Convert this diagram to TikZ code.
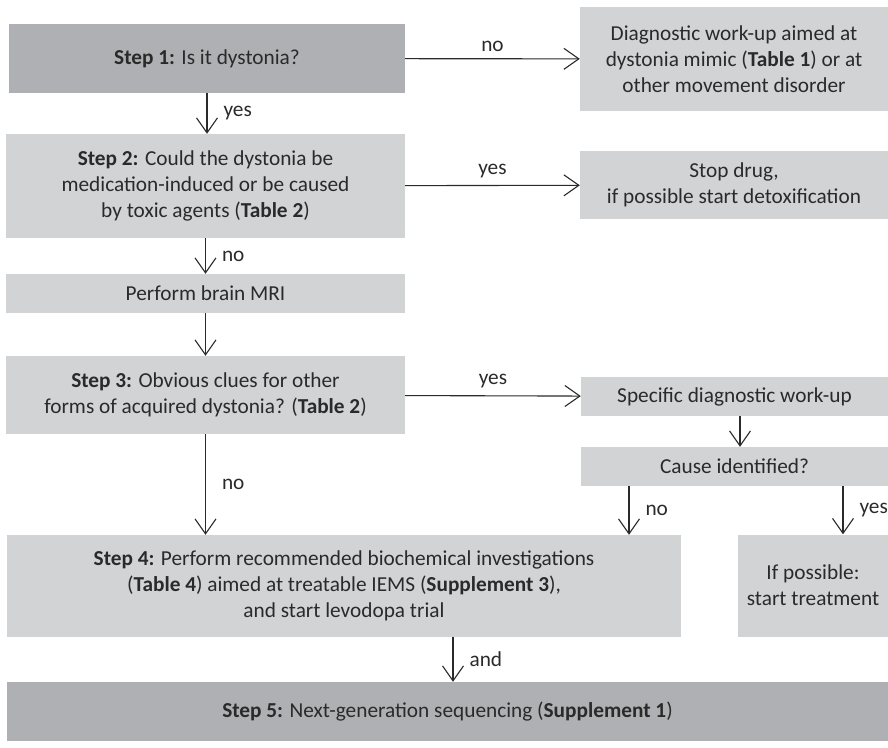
\documentclass[tikz,border=0pt]{standalone}
\usepackage{fontspec}
\setmainfont{Carlito}
\usepackage{tikz}
\usetikzlibrary{positioning}
\usetikzlibrary{arrows.meta}

\definecolor{darkbox}{HTML}{AFB0B3}
\definecolor{lightbox}{HTML}{D2D3D5}
\definecolor{ink}{HTML}{2A2A2A}

\begin{document}
\begin{tikzpicture}[x=1pt, y=-1pt,
  box/.style = {fill=lightbox, text=ink, inner sep=0pt, align=center,
    font=\fontsize{21.3}{26}\selectfont},
  darkstep/.style = {box, fill=darkbox},
  arr/.style = {draw=ink, line width=1.1pt,
    -{Straight Barb[length=15pt, width=21pt, line width=1.1pt]}},
  lbl/.style = {text=ink, inner sep=0pt, font=\fontsize{21.3}{26}\selectfont}]
          \useasboundingbox (0,0) rectangle (888,747);
          \node[darkstep, minimum width=396, minimum height=69](step1) at (207,58.5)
            {\textbf{Step 1:} Is it dystonia?};
          \node[box, minimum width=308, minimum height=104](mimic) at (734,59)
            {Diagnostic work-up aimed at\\dystonia mimic (\textbf{Table 1}) or at\\other movement disorder};
          \node[box, minimum width=399, minimum height=104](step2) at (205.5,186)
            {\textbf{Step 2:} Could the dystonia be\\medication-induced or be caused\\by toxic agents (\textbf{Table 2})};
          \node[box, minimum width=308, minimum height=68](stop) at (734,185)
            {Stop drug,\\if possible start detoxification};
          \node[box, minimum width=399, minimum height=39](mri) at (205.5,293.5)
            {Perform brain MRI};
          \node[box, minimum width=399, minimum height=78](step3) at (205.5,395)
            {\textbf{Step 3:} Obvious clues for other\\forms of acquired dystonia? (\textbf{Table 2})};
          \node[box, minimum width=307, minimum height=39](spec) at (734.5,396.5)
            {Specific diagnostic work-up};
          \node[box, minimum width=307, minimum height=39](cause) at (734.5,466.5)
            {Cause identified?};
          \node[box, minimum width=674, minimum height=102](step4) at (344,586)
            {\textbf{Step 4:} Perform recommended biochemical investigations\\(\textbf{Table 4}) aimed at treatable IEMS (\textbf{Supplement 3}),\\and start levodopa trial};
          \node[box, minimum width=150, minimum height=102](treat) at (813,585.5)
            {If possible:\\start treatment};
          \node[darkstep, minimum width=881, minimum height=59](step5) at (447.5,711.5)
            {\textbf{Step 5:} Next-generation sequencing (\textbf{Supplement 1})};
          \draw[arr] (step1) -- node[lbl, above=7pt]{no} (mimic);
          \draw[arr] (step1.south) -- node[lbl, right=16pt]{yes} (step1.south |- step2.north);
          \draw[arr] (step2) -- node[lbl, above=7pt]{yes} (stop);
          \draw[arr] (step2.south) -- node[lbl, right=16pt]{no} (step2.south |- mri.north);
          \draw[arr] (mri) -- (step3);
          \draw[arr] (step3) -- node[lbl, above=7pt]{yes} (spec);
          \draw[arr] ([xshift=5.5pt]spec.south) -- ([xshift=5.5pt]cause.north);
          \draw[arr] (step3.south) -- node[lbl, right=16pt]{no} (step3.south |- step4.north);
          \draw[arr] ([xshift=-105.5pt]cause.south) -- node[lbl, right=16pt]{no} ([xshift=-105.5pt]cause.south |- step4.north);
          \draw[arr] ([xshift=108.5pt]cause.south) -- node[lbl, right=16pt]{yes} ([xshift=108.5pt]cause.south |- treat.north);
          \draw[arr] ([xshift=5.5pt]step5.north |- step4.south) -- node[lbl, right=16pt]{and} ([xshift=5.5pt]step5.north);
        \end{tikzpicture}
\end{document}
